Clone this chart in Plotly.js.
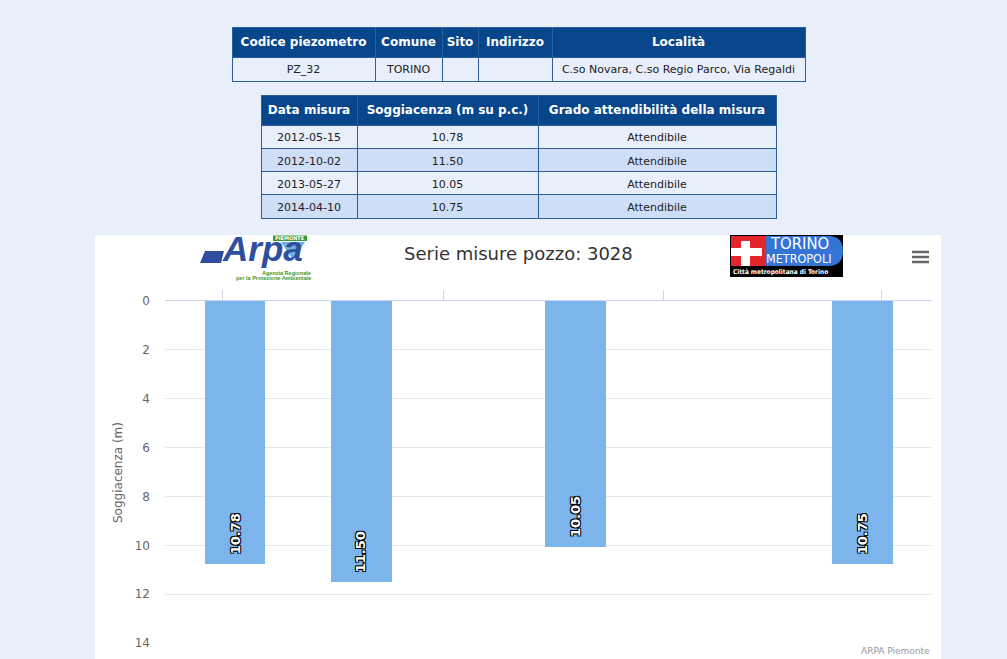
<!DOCTYPE html>
<html><head><meta charset="utf-8">
<script src="https://cdn.plot.ly/plotly-3.0.1.min.js"></script>
<style>html,body{margin:0;padding:0;background:#e8eefa;overflow:hidden}#chart{width:1007px;height:659px}</style>
</head><body><div id="chart"></div>
<script>
// ---- data ----
const infoHeaders = ['Codice piezometro', 'Comune', 'Sito', 'Indirizzo', 'Località'];
const infoRow = ['PZ_32', 'TORINO', '', '', 'C.so Novara, C.so Regio Parco, Via Regaldi'];
const measureHeaders = ['Data misura', 'Soggiacenza (m su p.c.)', 'Grado attendibilità della misura'];
const measureDates = ['2012-05-15', '2012-10-02', '2013-05-27', '2014-04-10'];
const measureDepths = [10.78, 11.50, 10.05, 10.75];
const measureGrades = ['Attendibile', 'Attendibile', 'Attendibile', 'Attendibile'];
const chartTitle = 'Serie misure pozzo: 3028';
const yTitle = 'Soggiacenza (m)';
const creditText = 'ARPA Piemonte';

// ---- helpers (pixel -> paper) ----
const W = 1007, H = 659;
const px = x => x / W;
const py = y => 1 - y / H;
const pth = pts => pts.map((p, i) => (i ? 'L' : 'M') + px(p[0]) + ',' + py(p[1])).join(' ') + ' Z';
const nb = s => s.replace(/ /g, '\u00a0'); // keep table texts on one line

const PAGE = '#e8eefa', HEAD = '#08468c', BORDER = '#2a5f98', ALT = '#cfdef7';
const FONT = 'DejaVu Sans';
const COND = 'DejaVu Sans Condensed';
const DAY = 86400000;

const rowFill = measureDates.map((d, i) => i % 2 ? ALT : PAGE);

const traces = [
  {
    type: 'table',
    domain: {x: [px(232), px(805)], y: [py(84), py(27)]},
    columnwidth: [143, 67, 36, 74, 253],
    header: {
      values: infoHeaders.map(h => '<b>' + nb(h) + '</b>'),
      align: 'center', height: 22,
      fill: {color: HEAD},
      line: {color: BORDER, width: 1},
      font: {family: FONT, size: 12, color: '#ffffff'}
    },
    cells: {
      values: infoRow.map(v => [nb(v)]),
      align: 'center', height: 24,
      fill: {color: PAGE},
      line: {color: BORDER, width: 1},
      font: {family: FONT, size: 11, color: '#222222'}
    }
  },
  {
    type: 'table',
    domain: {x: [px(261), px(776)], y: [py(220), py(95)]},
    columnwidth: [96, 181, 238],
    header: {
      values: measureHeaders.map(h => '<b>' + nb(h) + '</b>'),
      align: 'center', height: 23,
      fill: {color: HEAD},
      line: {color: BORDER, width: 1},
      font: {family: FONT, size: 12, color: '#ffffff'}
    },
    cells: {
      values: [measureDates, measureDepths.map(v => v.toFixed(2)), measureGrades],
      align: 'center', height: 23.3,
      fill: {color: [rowFill, rowFill, rowFill]},
      line: {color: BORDER, width: 1},
      font: {family: FONT, size: 11, color: '#222222'}
    }
  },
  {
    type: 'bar',
    x: measureDates,
    y: measureDepths,
    width: measureDates.map(() => 67 * DAY),
    marker: {color: '#7cb5ec', line: {width: 0}},
    hoverinfo: 'x+y',
    xaxis: 'x', yaxis: 'y'
  }
];

const outline = '1px 1px 0 #000, -1px -1px 0 #000, 1px -1px 0 #000, -1px 1px 0 #000';

const annotations = [
  {xref: 'paper', yref: 'paper', x: px(518), y: py(253), text: chartTitle, showarrow: false,
   xanchor: 'center', yanchor: 'middle', font: {family: FONT, size: 18, color: '#333333'}},
  {xref: 'paper', yref: 'paper', x: px(932), y: py(651), text: creditText, showarrow: false,
   xanchor: 'right', yanchor: 'middle', font: {family: FONT, size: 9, color: '#999999'}},
  // ARPA logo
  {xref: 'paper', yref: 'paper', x: px(220), y: py(270), text: '<b><i>Arpa</i></b>', showarrow: false,
   xanchor: 'left', yanchor: 'bottom', font: {family: 'Liberation Sans', size: 35, color: '#2f4e9e'}},
  {xref: 'paper', yref: 'paper', x: px(290), y: py(238), text: '<b>PIEMONTE</b>', showarrow: false,
   xanchor: 'center', yanchor: 'middle', font: {family: FONT, size: 5, color: '#ffffff'}},
  {xref: 'paper', yref: 'paper', x: px(313), y: py(273), text: '<b>Agenzia Regionale</b>', showarrow: false,
   xanchor: 'right', yanchor: 'middle', font: {family: 'Liberation Sans', size: 5.5, color: '#3a983a'}},
  {xref: 'paper', yref: 'paper', x: px(313), y: py(278), text: '<b>per la Protezione Ambientale</b>', showarrow: false,
   xanchor: 'right', yanchor: 'middle', font: {family: 'Liberation Sans', size: 5.5, color: '#3a983a'}},
  // Torino logo
  {xref: 'paper', yref: 'paper', x: px(799), y: py(243), text: 'TORINO', showarrow: false,
   xanchor: 'center', yanchor: 'middle', font: {family: COND, size: 16.5, color: '#ffffff'}},
  {xref: 'paper', yref: 'paper', x: px(799), y: py(258), text: 'METROPOLI', showarrow: false,
   xanchor: 'center', yanchor: 'middle', font: {family: COND, size: 12.5, color: '#ffffff'}},
  {xref: 'paper', yref: 'paper', x: px(731), y: py(271.5), text: '<b>Città metropolitana di Torino</b>', showarrow: false,
   xanchor: 'left', yanchor: 'middle', font: {family: COND, size: 6.5, color: '#ffffff'}}
].concat(measureDates.map((d, i) => ({
  xref: 'x', yref: 'y', x: d, y: measureDepths[i], text: '<b>' + measureDepths[i].toFixed(2) + '</b>',
  textangle: -90, showarrow: false, xanchor: 'center', yanchor: 'middle', yshift: 30,
  font: {family: FONT, size: 13, color: '#ffffff', shadow: outline}
})));

const shapes = [
  {type: 'rect', xref: 'paper', yref: 'paper', x0: px(95), x1: px(941), y0: 0, y1: py(235),
   fillcolor: '#ffffff', line: {width: 0}, layer: 'below'},
  // hamburger
  ...[252, 257, 262].map(y => ({type: 'line', xref: 'paper', yref: 'paper', x0: px(912), x1: px(929),
   y0: py(y), y1: py(y), line: {color: '#666666', width: 2.5}})),
  // ARPA dash + green tag
  {type: 'path', xref: 'paper', yref: 'paper', path: pth([[205, 251], [224, 251], [221, 263], [200, 263]]),
   fillcolor: '#2f4e9e', line: {width: 0}},
  {type: 'rect', xref: 'paper', yref: 'paper', x0: px(273), x1: px(307), y0: py(241), y1: py(235.5),
   fillcolor: '#3a983a', line: {width: 0}},
  {type: 'path', xref: 'paper', yref: 'paper', path: pth([[281, 242], [305, 242], [293, 260]]),
   fillcolor: '#6fb0d8', line: {width: 0}},
  // Torino logo
  {type: 'rect', xref: 'paper', yref: 'paper', x0: px(730), x1: px(843), y0: py(277), y1: py(235),
   fillcolor: '#000000', line: {width: 0}},
  {type: 'rect', xref: 'paper', yref: 'paper', x0: px(731), x1: px(767), y0: py(266), y1: py(236),
   fillcolor: '#e3262c', line: {width: 0}},
  {type: 'path', xref: 'paper', yref: 'paper',
   path: 'M' + px(766) + ',' + py(236) + ' L' + px(828) + ',' + py(236) + ' Q' + px(843) + ',' + py(236) + ' ' + px(843) + ',' + py(251) +
         ' Q' + px(843) + ',' + py(266) + ' ' + px(828) + ',' + py(266) + ' L' + px(766) + ',' + py(266) + ' Z',
   fillcolor: '#3474d4', line: {width: 0}},
  {type: 'rect', xref: 'paper', yref: 'paper', x0: px(741), x1: px(750), y0: py(266), y1: py(241),
   fillcolor: '#ffffff', line: {width: 0}},
  {type: 'rect', xref: 'paper', yref: 'paper', x0: px(731), x1: px(762), y0: py(256), y1: py(248),
   fillcolor: '#ffffff', line: {width: 0}}
];

const layout = {
  width: W, height: H,
  margin: {l: 0, r: 0, t: 0, b: 0},
  paper_bgcolor: PAGE,
  plot_bgcolor: '#ffffff',
  showlegend: false,
  font: {family: FONT, color: '#666666'},
  bargap: 0,
  xaxis: {
    domain: [px(165), px(932)],
    type: 'date',
    range: ['2012-02-27 12:00', '2014-06-25 17:00'],
    side: 'top',
    showticklabels: false,
    ticks: 'outside', ticklen: 10, tickwidth: 1, tickcolor: '#ccd6eb',
    tick0: '2012-05-01', dtick: 'M8',
    showgrid: false, zeroline: false,
    showline: true, linecolor: '#ccd6eb', linewidth: 1,
    fixedrange: true
  },
  yaxis: {
    domain: [py(644), py(301)],
    range: [14.04, 0],
    tick0: 0, dtick: 2,
    showgrid: true, gridcolor: '#e6e6e6', gridwidth: 1,
    zeroline: false, showline: false,
    ticks: '', ticklabelstandoff: 14,
    tickfont: {family: FONT, size: 12, color: '#666666'},
    title: {text: yTitle, font: {family: FONT, size: 12, color: '#666666'}, standoff: 9},
    fixedrange: true
  },
  annotations: annotations,
  shapes: shapes
};

Plotly.newPlot('chart', traces, layout, {displayModeBar: false});
</script>
</body></html>
